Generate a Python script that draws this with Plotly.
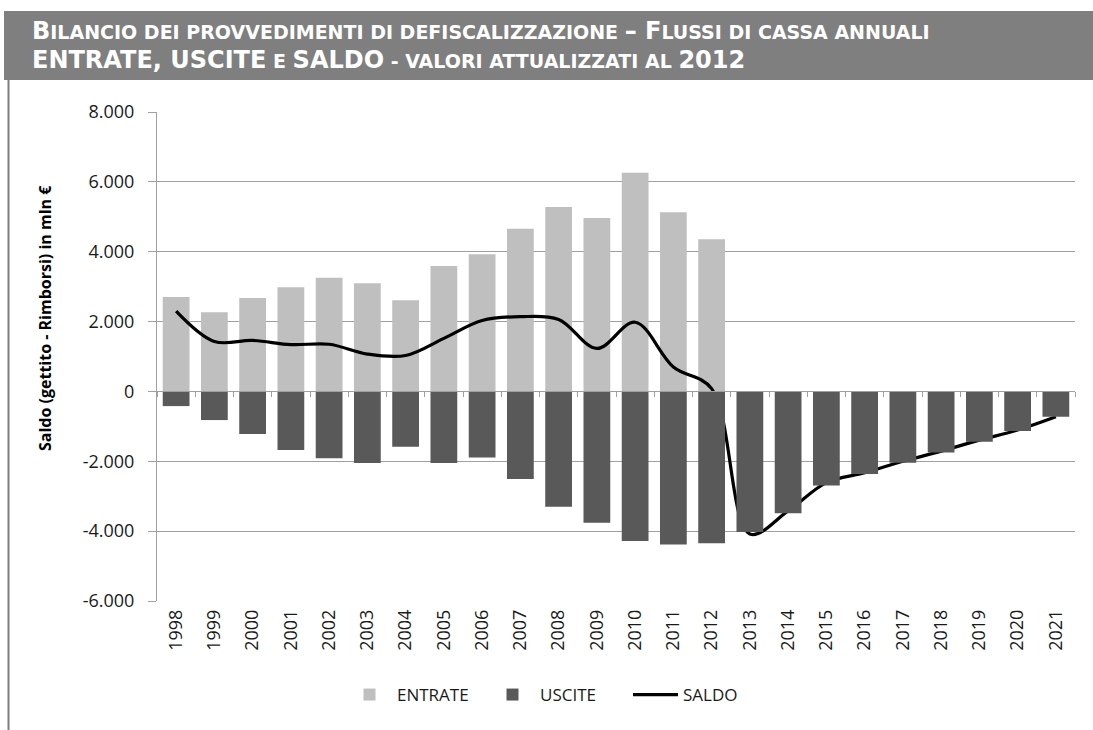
import plotly.graph_objects as go

years = [str(y) for y in range(1998, 2022)]
entrate = [2700, 2265, 2675, 2980, 3255, 3095, 2610, 3590, 3925, 4660, 5280, 4965,
           6260, 5130, 4360, None, None, None, None, None, None, None, None, None]
uscite = [-420, -820, -1220, -1680, -1915, -2050, -1585, -2050, -1890, -2510, -3300, -3760,
          -4285, -4380, -4350, -4025, -3490, -2690, -2365, -2040, -1745, -1440, -1135, -725]
saldo = [2300, 1430, 1460, 1340, 1350, 1070, 1030, 1520, 2030, 2140, 2060, 1230,
         1980, 700, 80, -4080, -3420, -2610, -2330, -2000, -1710, -1395, -1105, -725]
ytick_vals = [-6000, -4000, -2000, 0, 2000, 4000, 6000, 8000]
ytick_text = ["-6.000", "-4.000", "-2.000", "0", "2.000", "4.000", "6.000", "8.000"]

W, H = 1093, 730
L, R, T, B = 157, 1075, 112, 601


def px(x):
    return (x - L) / (R - L)


def py(y):
    return (B - y) / (B - T)


fig = go.Figure()
fig.add_trace(go.Bar(x=years, y=entrate, name="ENTRATE", marker_color="#bfbfbf",
                     marker_line_width=0, width=0.7, xaxis="x", yaxis="y"))
fig.add_trace(go.Bar(x=years, y=uscite, name="USCITE", marker_color="#595959",
                     marker_line_width=0, width=0.7, xaxis="x2", yaxis="y"))
fig.add_trace(go.Scatter(x=years, y=saldo, name="SALDO", mode="lines",
                         line=dict(color="black", width=3.2, shape="spline", smoothing=1),
                         xaxis="x", yaxis="y"))

base_font = "Open Sans, Liberation Sans, sans-serif"

fig.update_layout(
    width=W, height=H,
    margin=dict(l=L, r=W - R, t=T, b=H - B),
    paper_bgcolor="white", plot_bgcolor="white",
    barmode="overlay",
    showlegend=True,
    legend=dict(orientation="h", x=px(342), xanchor="left", y=py(695), yanchor="middle",
                font=dict(family=base_font, size=17, color="#1a1a1a"),
                itemwidth=45, entrywidth=83, entrywidthmode="pixels", traceorder="normal"),
    xaxis=dict(type="category", categoryorder="array", categoryarray=years,
               range=[-0.5, 23.5], showgrid=False, zeroline=False, showline=False,
               ticks="", tickangle=-90, ticklabelstandoff=4,
               tickfont=dict(family=base_font, size=18, color="#1a1a1a")),
    xaxis2=dict(type="category", categoryorder="array", categoryarray=years,
                range=[-0.5, 23.5], overlaying="x", anchor="free", position=6 / 14,
                showgrid=False, zeroline=False, showline=True, linecolor="#a0a0a0", linewidth=1,
                ticks="outside", ticklen=5, tickcolor="#a0a0a0", tickson="boundaries",
                showticklabels=False),
    yaxis=dict(range=[-6000, 8000], tickvals=ytick_vals, ticktext=ytick_text,
               showgrid=True, gridcolor="#a0a0a0", gridwidth=1,
               zeroline=False, showline=True, linecolor="#a0a0a0", linewidth=1,
               ticks="outside", ticklen=8, tickcolor="#a0a0a0", ticklabelstandoff=10,
               tickfont=dict(family=base_font, size=18, color="#1a1a1a")),
)

# title bar and frame line
fig.add_shape(type="rect", xref="paper", yref="paper", x0=px(4), x1=px(1093), y0=py(80), y1=py(11),
              fillcolor="#7f7f7f", line_width=0, layer="above")
fig.add_shape(type="line", xref="paper", yref="paper", x0=px(8.5), x1=px(8.5), y0=py(80), y1=py(730),
              line=dict(color="#7f7f7f", width=2))

tf = "DejaVu Sans, Liberation Sans, sans-serif"
big, small = 24, 19
line1 = (f"<b><span style='font-size:{big}px'>B</span>ILANCIO DEI PROVVEDIMENTI DI DEFISCALIZZAZIONE "
         f"<span style='font-size:{big}px'>– F</span>LUSSI DI CASSA ANNUALI</b>")
line2 = (f"<b><span style='font-size:{big}px'>ENTRATE, USCITE</span> E "
         f"<span style='font-size:{big}px'>SALDO</span> - VALORI ATTUALIZZATI AL "
         f"<span style='font-size:{big}px'>2012</span></b>")
fig.add_annotation(xref="paper", yref="paper", x=px(30), y=py(31), xanchor="left", yanchor="middle",
                   text=line1, showarrow=False, font=dict(family=tf, size=small, color="white"))
fig.add_annotation(xref="paper", yref="paper", x=px(30), y=py(60), xanchor="left", yanchor="middle",
                   text=line2, showarrow=False, font=dict(family=tf, size=small, color="white"))

fig.add_annotation(xref="paper", yref="paper", x=px(45), y=py(318), xanchor="center", yanchor="middle",
                   text="<b>Saldo (gettito - Rimborsi) in mln €</b>", textangle=-90, showarrow=False,
                   font=dict(family="Open Sans, sans-serif", size=16, color="black"))

fig.write_html("out.html", config={"displayModeBar": False},
               post_script="document.body.style.margin='0px';")
